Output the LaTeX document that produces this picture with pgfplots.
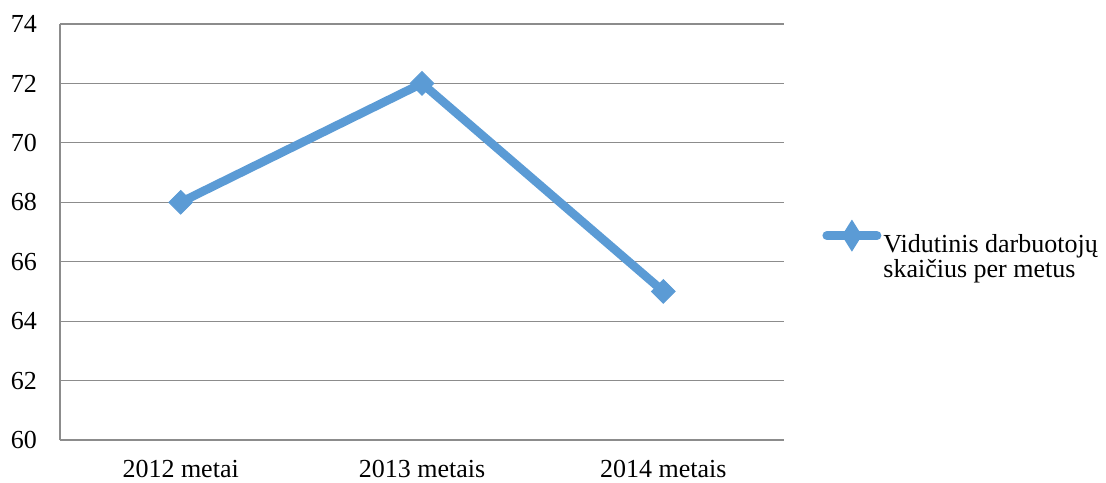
\documentclass[border=0pt]{standalone}
\usepackage{fontspec}
\setmainfont{Liberation Serif}
\usepackage{pgfplots}
\pgfplotsset{compat=1.18}
\definecolor{lineblue}{HTML}{5B9BD5}
\definecolor{gridgray}{HTML}{8C8C8C}
\begin{document}
\begin{tikzpicture}
\path[use as bounding box] (0,0) rectangle (553pt,241pt);
\begin{axis}[
  at={(30pt,21pt)}, anchor=south west,
  scale only axis, width=362pt, height=208pt,
  xmin=-0.5, xmax=2.5, ymin=60, ymax=74,
  ytick={60,62,...,74},
  xtick={0,1,2},
  xticklabels={2012 metai, 2013 metais, 2014 metais},
  axis x line*=bottom, axis y line*=left,
  major tick length=0pt,
  ymajorgrids,
  grid style={gridgray, line width=0.6pt},
  axis line style={gridgray, line width=0.6pt},
  tick label style={font=\fontsize{13}{15}\selectfont},
  /pgf/number format/assume math mode=true,
  y tick label style={anchor=east, xshift=-8pt},
  x tick label style={anchor=base, yshift=-18.5pt},
  legend style={at={(1,0.5)}, anchor=west, xshift=19pt, yshift=-11pt,
    draw=none, fill=none,
    inner sep=0pt, font=\fontsize{13}{13.8}\selectfont,
    nodes={inner xsep=1pt, yshift=-11pt},
    cells={align=left}},
  legend cell align=left,
  legend image code/.code={
    \draw[lineblue, line width=4.5pt, line cap=round] (0pt,0pt) -- (25pt,0pt);
    \fill[lineblue] (12.5pt,-4pt) -- (15pt,0pt) -- (12.5pt,4pt) -- (10pt,0pt) -- cycle;
  },
]
\addplot[color=lineblue, line width=4.3pt, mark=square*,
  mark size=4.2pt, mark options={solid, rotate=45, fill=lineblue, draw=lineblue, line width=0.4pt}]
  coordinates {(0,68) (1,72) (2,65)};
\addlegendentry{Vidutinis darbuotojų\\[-1.25pt]skaičius per metus}
\end{axis}
\end{tikzpicture}
\end{document}
